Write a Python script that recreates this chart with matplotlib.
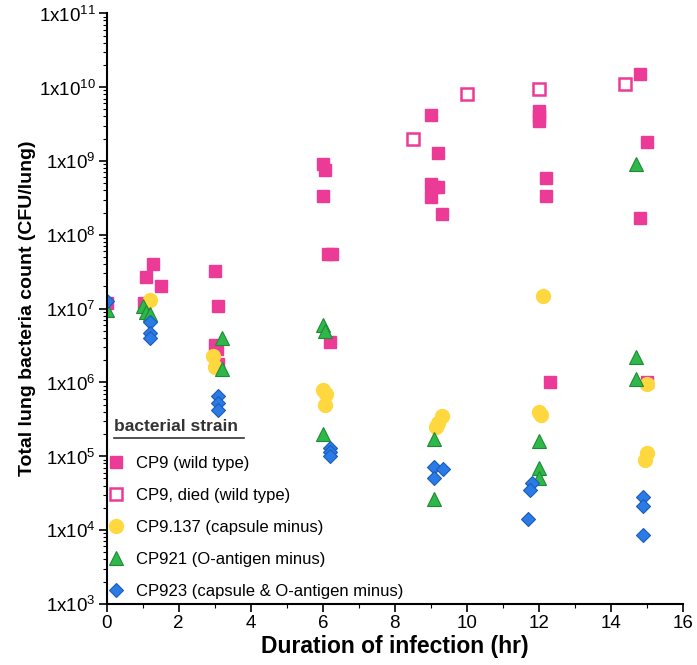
import numpy as np
import matplotlib
matplotlib.use("Agg")
import matplotlib.pyplot as plt
from matplotlib.lines import Line2D

plt.rcParams['font.family'] = ['Liberation Sans', 'DejaVu Sans']
plt.rcParams['mathtext.fontset'] = 'custom'
plt.rcParams['mathtext.rm'] = 'Liberation Sans'

# CP9 (wild type), filled squares
cp9_t = [0, 1.05, 1.1, 1.3, 1.5, 3.0, 3.1, 3.0, 3.05, 3.1,
         6.0, 6.05, 6.0, 6.15, 6.25, 6.2,
         9.0, 9.2, 9.0, 9.1, 9.0, 9.2, 9.3,
         12.0, 12.0, 12.0, 12.2, 12.2, 12.3,
         14.8, 15.0, 14.8, 15.0]
cp9_v = [1.2e7, 1.2e7, 2.7e7, 4.0e7, 2.0e7, 3.2e7, 1.1e7, 3.2e6, 2.8e6, 1.8e6,
         9.0e8, 7.5e8, 3.4e8, 5.5e7, 5.5e7, 3.5e6,
         4.2e9, 1.3e9, 4.8e8, 4.5e8, 3.2e8, 4.5e8, 1.9e8,
         4.8e9, 4.0e9, 3.5e9, 5.8e8, 3.4e8, 1.0e6,
         1.5e10, 1.8e9, 1.7e8, 1.0e6]

# CP9 died (wild type), open squares
died_t = [8.5, 10.0, 12.0, 14.4]
died_v = [2.0e9, 8.0e9, 9.5e9, 1.1e10]

# CP9.137 (capsule minus), circles
cp137_t = [1.2, 2.95, 3.0, 6.0, 6.1, 6.05, 9.3, 9.2, 9.15,
           12.1, 12.0, 12.05, 15.0, 15.0, 14.95]
cp137_v = [1.3e7, 2.3e6, 1.6e6, 8.0e5, 7.0e5, 5.0e5, 3.5e5, 2.8e5, 2.5e5,
           1.5e7, 4.0e5, 3.6e5, 9.5e5, 1.1e5, 9.0e4]

# CP921 (O-antigen minus), triangles
cp921_t = [0, 1.0, 1.1, 1.2, 3.2, 3.2, 6.0, 6.05, 6.0,
           9.1, 9.1, 12.0, 12.0, 12.0, 14.7, 14.7, 14.7]
cp921_v = [9.5e6, 1.1e7, 9.0e6, 8.5e6, 4.0e6, 1.5e6, 6.0e6, 5.0e6, 2.0e5,
           1.7e5, 2.6e4, 1.6e5, 7.0e4, 5.0e4, 9.0e8, 2.2e6, 1.1e6]

# CP923 (capsule & O-antigen minus), diamonds
cp923_t = [0, 1.2, 1.2, 1.2, 3.1, 3.1, 3.1, 6.2, 6.2, 6.2,
           9.1, 9.35, 9.1, 11.8, 11.75, 11.7, 14.9, 14.9, 14.9]
cp923_v = [1.25e7, 6.5e6, 4.7e6, 4.0e6, 6.5e5, 5.3e5, 4.2e5, 1.3e5, 1.15e5, 1.0e5,
           7.2e4, 6.8e4, 5.0e4, 4.4e4, 3.5e4, 1.4e4, 2.8e4, 2.1e4, 8.5e3]

labels = ['CP9 (wild type)', 'CP9, died (wild type)', 'CP9.137 (capsule minus)',
          'CP921 (O-antigen minus)', 'CP923 (capsule & O-antigen minus)']

pink = '#ec3a97'
yellow = '#ffd83f'
green = '#2fb84a'
blue = '#2a7be6'

fig = plt.figure(figsize=(6.97, 6.65), dpi=100)
ax = fig.add_axes([0.153, 0.092, 0.827, 0.888])

ax.plot(cp9_t, cp9_v, 's', color=pink, mec=pink, ms=9, ls='none')
ax.plot(died_t, died_v, 's', mfc='white', mec=pink, mew=1.8, ms=9, ls='none')
ax.plot(cp137_t, cp137_v, 'o', color=yellow, mec=yellow, ms=10, ls='none')
ax.plot(cp921_t, cp921_v, '^', color=green, mec='#1f8a35', mew=0.8, ms=9.5, ls='none')
ax.plot(cp923_t, cp923_v, 'D', color=blue, mec='#1a5cb8', mew=0.8, ms=7.5, ls='none')

ax.set_yscale('log')
ax.set_ylim(1e3, 1e11)
ax.set_xlim(0, 16)
ax.set_xticks(np.arange(0, 17, 2))
ax.set_xticks(np.arange(1, 16, 2), minor=True)
ax.set_yticks([10.0 ** k for k in range(3, 12)])
ax.set_yticklabels([r'1x10$^{%d}$' % k for k in range(3, 12)])
ax.tick_params(axis='both', labelsize=13.5, length=6, width=1.2, pad=2)
ax.tick_params(axis='both', which='minor', length=3, width=0.8)

for s in ['top', 'right']:
    ax.spines[s].set_visible(False)
for s in ['left', 'bottom']:
    ax.spines[s].set_linewidth(1.5)

ax.set_xlabel('Duration of infection (hr)', fontsize=16.5, fontweight='bold', labelpad=2)
ax.set_ylabel('Total lung bacteria count (CFU/lung)', fontsize=14, fontweight='bold', labelpad=2)

handles = [
    Line2D([], [], marker='s', color=pink, mec=pink, ms=9, ls='none'),
    Line2D([], [], marker='s', mfc='white', mec=pink, mew=1.8, ms=9, ls='none'),
    Line2D([], [], marker='o', color=yellow, mec=yellow, ms=10, ls='none'),
    Line2D([], [], marker='^', color=green, mec='#1f8a35', mew=0.8, ms=9.5, ls='none'),
    Line2D([], [], marker='D', color=blue, mec='#1a5cb8', mew=0.8, ms=7.5, ls='none'),
]
ax.legend(handles, labels, loc='lower left', bbox_to_anchor=(-0.018, -0.012),
          frameon=False, fontsize=12, labelspacing=1.02, handletextpad=0.7,
          handlelength=1.0, borderaxespad=0.3)

ax.text(0.012, 0.30, 'bacterial strain', transform=ax.transAxes, va='center',
        fontsize=12.5, fontweight='bold', color='#333333')
ax.plot([0.012, 0.238], [0.281, 0.281], transform=ax.transAxes,
        color='#333333', lw=1.2, clip_on=False)

fig.savefig('out.png', dpi=100)
